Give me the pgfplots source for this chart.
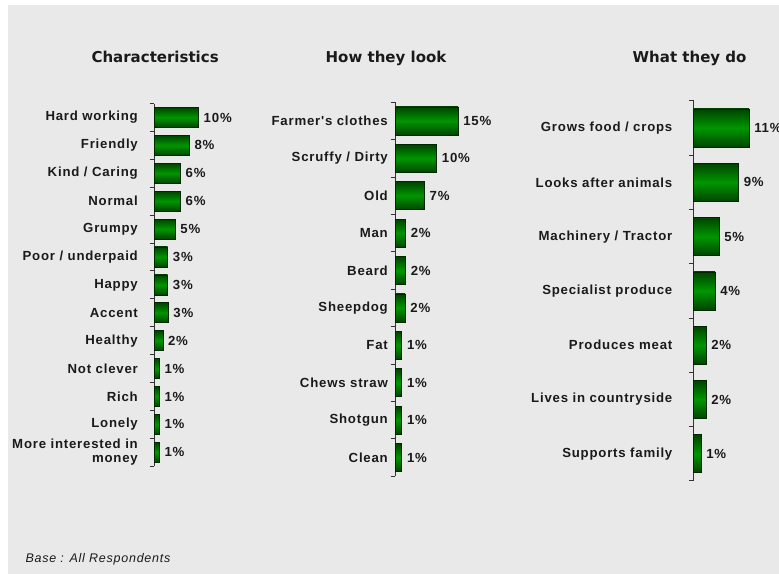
\documentclass[border=0pt]{standalone}
\usepackage{pgfplots}
\usepackage{pgfplotstable}
\pgfplotsset{compat=1.18}
\usepackage{fontspec}
\setmainfont{Liberation Sans}
\newfontfamily\labfont[LetterSpace=6]{Liberation Sans}
\newfontfamily\titfont{DejaVu Sans}
\newfontfamily\footfont[LetterSpace=6]{Liberation Sans}
\definecolor{bg}{HTML}{E9E9E9}
\definecolor{txt}{HTML}{1A1A1A}
\definecolor{bardark}{HTML}{004400}
\definecolor{barbright}{HTML}{009600}
\definecolor{barline}{HTML}{002800}
\definecolor{axline}{HTML}{333333}
\newcommand\labsize{\labfont\bfseries\fontsize{13.2bp}{14bp}\selectfont}

\pgfplotstableread{
pos val lab
0 10.1 10
-1 8.0 8
-2 6.0 6
-3 6.0 6
-4 4.8 5
-5 3.1 3
-6 3.1 3
-7 3.2 3
-8 2.0 2
-9 1.2 1
-10 1.2 1
-11 1.2 1
-12 1.2 1
}\tabA
\pgfplotstableread{
pos val lab
0 15.0 15
-1 9.9 10
-2 7.0 7
-3 2.5 2
-4 2.5 2
-5 2.4 2
-6 1.6 1
-7 1.6 1
-8 1.6 1
-9 1.6 1
}\tabB
\pgfplotstableread{
pos val lab
0 11.1 11
-1 9.0 9
-2 5.1 5
-3 4.3 4
-4 2.5 2
-5 2.5 2
-6 1.5 1
}\tabC

\pgfplotsset{
  panel/.style={
    clip=false,
    axis x line=none,
    axis y line*=left,
    y axis line style={color=axline, line width=0.9bp},
    xmin=0,
    xtick=\empty,
    major tick length=0pt,
    minor tick length=4.5bp,
    tick align=outside,
    every minor tick/.append style={axline, line width=0.9bp},
    yticklabel style={font=\labsize, text=txt, anchor=east, inner sep=0pt, align=right},
    xbar, bar shift=0pt,
    point meta=explicit symbolic,
    nodes near coords={\pgfplotspointmeta\%},
    nodes near coords style={font=\labsize, text=txt, anchor=west, inner sep=0pt, xshift=5bp},
  },
  barstyle/.style={draw=barline, line width=0.6bp, top color=bardark, bottom color=bardark, middle color=barbright},
}
\begin{document}
\begin{tikzpicture}[x=1bp,y=1bp]
\useasboundingbox (0,0) rectangle (779,574);
\fill[white] (0,0) rectangle (779,574);
\fill[bg] (8,0) rectangle (779,569);

\node[font=\titfont\bfseries\fontsize{15bp}{17bp}\selectfont, text=txt, anchor=base west] at (88,511) {Characteristics};
\node[font=\titfont\bfseries\fontsize{15bp}{17bp}\selectfont, text=txt, anchor=base] at (386,511) {How they look};
\node[font=\titfont\bfseries\fontsize{15bp}{17bp}\selectfont, text=txt, anchor=base east] at (750,511) {What they do};

\begin{axis}[panel, at={(154bp,470.45bp)}, anchor=north west,
  x=4.4bp, y=27.9bp, xmax=14, ymin=-12.5, ymax=0.5, bar width=20bp,
  ytick={0,-1,-2,-3,-4,-5,-6,-7,-8,-9,-10,-11,-12},
  minor ytick={0.5,-0.5,-1.5,-2.5,-3.5,-4.5,-5.5,-6.5,-7.5,-8.5,-9.5,-10.5,-11.5,-12.5},
  yticklabels={Hard working,Friendly,Kind / Caring,Normal,Grumpy,Poor / underpaid,Happy,Accent,Healthy,Not clever,Rich,Lonely,{More interested in\\money}},
  yticklabel style={xshift=-16bp}]
\pgfplotsinvokeforeach{0,...,12}{
  \addplot[barstyle] table[x=val, y=pos, meta=lab, restrict expr to domain={\coordindex}{#1:#1}] {\tabA};
}
\end{axis}

\begin{axis}[panel, at={(395bp,471.7bp)}, anchor=north west,
  x=4.2bp, y=37.4bp, xmax=20, ymin=-9.5, ymax=0.5, bar width=28bp,
  ytick={0,-1,-2,-3,-4,-5,-6,-7,-8,-9},
  minor ytick={0.5,-0.5,-1.5,-2.5,-3.5,-4.5,-5.5,-6.5,-7.5,-8.5,-9.5},
  yticklabels={Farmer's clothes,Scruffy / Dirty,Old,Man,Beard,Sheepdog,Fat,Chews straw,Shotgun,Clean},
  yticklabel style={xshift=-7bp}]
\pgfplotsinvokeforeach{0,...,9}{
  \addplot[barstyle] table[x=val, y=pos, meta=lab, restrict expr to domain={\coordindex}{#1:#1}] {\tabB};
}
\end{axis}

\begin{axis}[panel, at={(693.5bp,473.15bp)}, anchor=north west,
  x=5.0bp, y=54.3bp, xmax=14, ymin=-6.5, ymax=0.5, bar width=38bp,
  ytick={0,-1,-2,-3,-4,-5,-6},
  minor ytick={0.5,-0.5,-1.5,-2.5,-3.5,-4.5,-5.5,-6.5},
  yticklabels={Grows food / crops,Looks after animals,Machinery / Tractor,Specialist produce,Produces meat,Lives in countryside,Supports family},
  yticklabel style={xshift=-21bp}]
\pgfplotsinvokeforeach{0,...,6}{
  \addplot[barstyle] table[x=val, y=pos, meta=lab, restrict expr to domain={\coordindex}{#1:#1}] {\tabC};
}
\end{axis}

\node[font=\footfont\itshape\fontsize{12.5bp}{14bp}\selectfont, text=txt, anchor=base west] at (22,11) {Base : All Respondents};
\end{tikzpicture}
\end{document}
